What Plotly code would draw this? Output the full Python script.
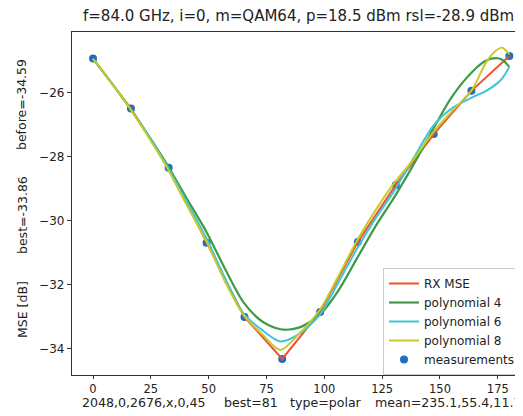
import plotly.graph_objects as go

# ---- data ----
meas_x = [0.0, 16.4, 32.7, 49.1, 65.5, 81.8, 98.2, 114.5, 130.9, 147.3, 163.6, 180.0]
meas_y = [-24.94, -26.50, -28.35, -30.70, -33.02, -34.33, -32.86, -30.67, -28.89, -27.30, -25.95, -24.86]

curve_x = [0, 8, 16, 24, 32, 40, 49, 57, 65, 73, 81, 89, 98, 106, 114, 122,
           130, 139, 147, 155, 164, 170, 175, 177, 180]
poly4_y = [-24.95, -25.70, -26.50, -27.35, -28.25, -29.25, -30.35, -31.50, -32.55,
           -33.15, -33.40, -33.35, -32.95, -32.20, -31.20, -30.20, -29.30, -28.20,
           -27.15, -26.15, -25.35, -25.00, -24.93, -24.98, -25.20]
poly6_y = [-24.95, -25.70, -26.50, -27.35, -28.30, -29.35, -30.55, -31.80, -32.90,
           -33.42, -33.78, -33.55, -32.95, -31.95, -30.90, -29.95, -29.10, -28.00,
           -27.05, -26.50, -26.15, -25.95, -25.70, -25.55, -25.20]
poly8_y = [-24.95, -25.70, -26.50, -27.40, -28.35, -29.45, -30.65, -31.90, -32.95,
           -33.55, -34.05, -33.55, -32.80, -31.75, -30.65, -29.70, -28.85, -28.05,
           -27.25, -26.60, -25.90, -25.05, -24.65, -24.60, -24.80]

x_ticks = [0, 25, 50, 75, 100, 125, 150, 175]
y_ticks = [-34, -32, -30, -28, -26]

title_text = "f=84.0 GHz, i=0, m=QAM64, p=18.5 dBm rsl=-28.9 dBm"
xlabel_parts = ["2048,0,2676,x,0,45", "best=81", "type=polar", "mean=235.1,55.4,11.7"]
ylabel_parts = ["MSE [dB]", "best=-33.86", "before=-34.59"]

FONT = "DejaVu Sans"

fig = go.Figure()
fig.add_trace(go.Scatter(x=meas_x, y=meas_y, mode="markers", name="measurements",
                         marker=dict(color="#1f6fc0", size=8), legendrank=5))
fig.add_trace(go.Scatter(x=meas_x, y=meas_y, mode="lines", name="RX MSE",
                         line=dict(color="#f0502a", width=2), legendrank=1))
fig.add_trace(go.Scatter(x=curve_x, y=poly4_y, mode="lines", name="polynomial 4",
                         line=dict(color="#3e9a48", width=2.2, shape="spline", smoothing=0.8),
                         legendrank=2))
fig.add_trace(go.Scatter(x=curve_x, y=poly6_y, mode="lines", name="polynomial 6",
                         line=dict(color="#3cc6d6", width=2, shape="spline", smoothing=0.8),
                         legendrank=3))
fig.add_trace(go.Scatter(x=curve_x, y=poly8_y, mode="lines", name="polynomial 8",
                         line=dict(color="#c9c92a", width=2, shape="spline", smoothing=0.8),
                         legendrank=4))

# page has an 8px body margin; figure placed at (8, 8)
OFF = 8
PAGE_W, PAGE_H = 523, 416
W, H = PAGE_W - OFF, PAGE_H - OFF
plot_l, plot_r, plot_t, plot_b = 72, 523, 32, 375   # page pixels
ml, mr, mt, mb = plot_l - OFF, 0, plot_t - OFF, PAGE_H - plot_b
pw, ph = plot_r - plot_l, plot_b - plot_t

def px_x(p):
    return (p - plot_l) / pw

def px_y(p):
    return (plot_b - p) / ph

annotations = []
for txt, xpix in zip(xlabel_parts, [80, 222, 288, 373]):
    annotations.append(dict(text=txt, x=px_x(xpix), y=px_y(402.5), xref="paper", yref="paper",
                            showarrow=False, xanchor="left", yanchor="middle",
                            font=dict(family=FONT, size=12.6, color="#222")))
for txt, ypix in zip(ylabel_parts, [310, 215, 105]):
    annotations.append(dict(text=txt, x=px_x(22), y=px_y(ypix), xref="paper", yref="paper",
                            showarrow=False, textangle=-90, xanchor="center", yanchor="middle",
                            font=dict(family=FONT, size=12.5, color="#222")))
annotations.append(dict(text=title_text, x=px_x(81), y=px_y(16), xref="paper", yref="paper",
                        showarrow=False, xanchor="left", yanchor="middle",
                        font=dict(family=FONT, size=15, color="#222")))

fig.update_layout(
    width=W, height=H, autosize=False,
    margin=dict(l=ml, r=mr, t=mt, b=mb, pad=0),
    paper_bgcolor="white", plot_bgcolor="white",
    font=dict(family=FONT, size=12, color="#222"),
    xaxis=dict(range=[-9.09, 185.9], tickvals=x_ticks, ticks="outside", ticklen=3,
               tickcolor="#333", showgrid=False, zeroline=False, showline=True,
               linecolor="#333", linewidth=1.3, mirror=True,
               tickfont=dict(family=FONT, size=11.5, color="#222")),
    yaxis=dict(range=[-34.83, -24.11], tickvals=y_ticks, ticks="outside", ticklen=4,
               tickcolor="#333", showgrid=False, zeroline=False, showline=True,
               linecolor="#333", linewidth=1.3,
               tickfont=dict(family=FONT, size=12, color="#222")),
    legend=dict(x=px_x(383), y=px_y(268), xanchor="left", yanchor="top",
                bgcolor="rgba(255,255,255,0.85)", bordercolor="#cccccc", borderwidth=1,
                font=dict(family=FONT, size=12, color="#222"), tracegroupgap=0,
                itemwidth=30),
    showlegend=True,
    annotations=annotations,
)

fig.write_html("out.html")
